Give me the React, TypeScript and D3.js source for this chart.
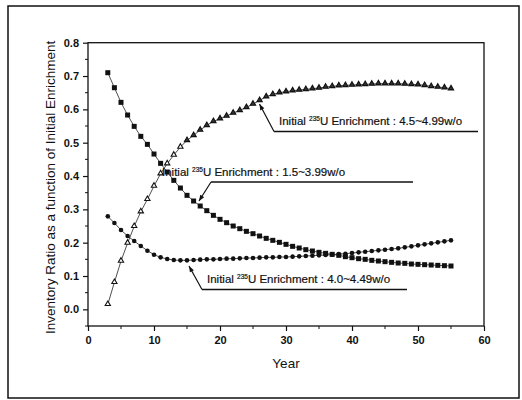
import React, { useEffect, useRef } from "react";
import * as d3 from "d3";

const years = [
  3, 4, 5, 6, 7, 8, 9, 10, 11, 12, 13, 14, 15, 16, 17, 18, 19, 20, 21, 22, 23, 24, 25, 26, 27, 28, 29,
  30, 31, 32, 33, 34, 35, 36, 37, 38, 39, 40, 41, 42, 43, 44, 45, 46, 47, 48, 49, 50, 51, 52, 53, 54, 55,
];

// 1.5~3.99 w/o (squares)
const lowEnrich = [
  0.71, 0.665, 0.621, 0.583, 0.549, 0.519, 0.495, 0.466, 0.438, 0.412, 0.387, 0.364, 0.342, 0.325,
  0.31, 0.296, 0.282, 0.27, 0.26, 0.25, 0.242, 0.234, 0.227, 0.22, 0.213, 0.207, 0.201, 0.195, 0.189,
  0.184, 0.179, 0.175, 0.171, 0.168, 0.165, 0.162, 0.158, 0.155, 0.152, 0.15, 0.147, 0.145, 0.143,
  0.141, 0.139, 0.138, 0.136, 0.135, 0.134, 0.133, 0.132, 0.131, 0.13,
];

// 4.0~4.49 w/o (circles)
const midEnrich = [
  0.279, 0.259, 0.238, 0.22, 0.205, 0.19, 0.176, 0.164, 0.156, 0.151, 0.148, 0.147, 0.147, 0.148,
  0.149, 0.15, 0.15, 0.151, 0.152, 0.152, 0.153, 0.154, 0.154, 0.155, 0.156, 0.156, 0.157, 0.157,
  0.158, 0.159, 0.16, 0.161, 0.162, 0.163, 0.164, 0.166, 0.167, 0.169, 0.171, 0.173, 0.175, 0.177,
  0.179, 0.181, 0.183, 0.186, 0.189, 0.192, 0.195, 0.198, 0.201, 0.204, 0.207,
];

// 4.5~4.99 w/o (triangles)
const highEnrich = [
  0.015, 0.081, 0.145, 0.199, 0.249, 0.293, 0.33, 0.37, 0.407, 0.437, 0.463, 0.487, 0.507, 0.522,
  0.538, 0.552, 0.564, 0.572, 0.58, 0.589, 0.597, 0.606, 0.616, 0.627, 0.638, 0.645, 0.65, 0.653,
  0.656, 0.658, 0.66, 0.662, 0.664, 0.667, 0.669, 0.671, 0.672, 0.673, 0.674, 0.675, 0.676, 0.677,
  0.677, 0.677, 0.677, 0.676, 0.675, 0.674, 0.672, 0.669, 0.667, 0.665, 0.662,
];

const xTicks = [0, 10, 20, 30, 40, 50, 60];
const yTicks = [0.0, 0.1, 0.2, 0.3, 0.4, 0.5, 0.6, 0.7, 0.8];

const W = 522;
const H = 400;
const font = "'Liberation Sans', Arial, sans-serif";

export default function App() {
  const ref = useRef<SVGSVGElement | null>(null);

  useEffect(() => {
    const svg = d3.select(ref.current);
    svg.selectAll("*").remove();

    const left = 88, right = 484, top = 42.7, bottom = 326;
    const x = d3.scaleLinear().domain([0, 60]).range([left, right]);
    const y = d3.scaleLinear().domain([-0.05, 0.8]).range([bottom, top]);

    // outer frame
    svg.append("rect")
      .attr("x", 8).attr("y", 6).attr("width", 511).attr("height", 392)
      .attr("fill", "none").attr("stroke", "#111").attr("stroke-width", 1.5);

    // plot box
    svg.append("rect")
      .attr("x", left).attr("y", top).attr("width", right - left).attr("height", bottom - top)
      .attr("fill", "none").attr("stroke", "#111").attr("stroke-width", 1.3);

    // minor ticks
    const g = svg.append("g");
    d3.range(5, 60, 10).forEach((v) => {
      g.append("line").attr("x1", x(v)).attr("x2", x(v)).attr("y1", bottom).attr("y2", bottom + 3)
        .attr("stroke", "#111").attr("stroke-width", 1);
    });
    d3.range(-0.05, 0.8, 0.1).forEach((v) => {
      g.append("line").attr("x1", left - 3).attr("x2", left).attr("y1", y(v)).attr("y2", y(v))
        .attr("stroke", "#111").attr("stroke-width", 1);
    });

    const xAxis = svg.append("g").attr("transform", `translate(0,${bottom})`)
      .call(d3.axisBottom(x).tickValues(xTicks).tickSize(5).tickPadding(5).tickFormat(d3.format("d")));
    const yAxis = svg.append("g").attr("transform", `translate(${left},0)`)
      .call(d3.axisLeft(y).tickValues(yTicks).tickSize(5).tickPadding(4).tickFormat(d3.format(".1f")));
    [xAxis, yAxis].forEach((a) => {
      a.select(".domain").remove();
      a.selectAll("line").attr("stroke", "#111").attr("stroke-width", 1.2);
      a.selectAll("text").attr("font-family", font).attr("font-size", 11)
        .attr("font-weight", "bold").attr("fill", "#111");
    });

    svg.append("text").attr("x", (left + right) / 2).attr("y", 368)
      .attr("text-anchor", "middle").attr("font-family", font).attr("font-size", 13.5)
      .attr("fill", "#111").text("Year");

    svg.append("text")
      .attr("transform", `translate(55,${(top + bottom) / 2 + 3}) rotate(-90)`)
      .attr("text-anchor", "middle").attr("font-family", font).attr("font-size", 13.5)
      .attr("fill", "#111").text("Inventory Ratio as a function of Initial Enrichment");

    const line = d3.line<number>().x((_, i) => x(years[i])).y((d) => y(d));
    const series = [lowEnrich, midEnrich, highEnrich];
    series.forEach((s) => {
      svg.append("path").attr("d", line(s)).attr("fill", "none")
        .attr("stroke", "#222").attr("stroke-width", 0.8);
    });

    svg.append("g").selectAll("rect").data(lowEnrich).join("rect")
      .attr("x", (_, i) => x(years[i]) - 2.5).attr("y", (d) => y(d) - 2.5)
      .attr("width", 5).attr("height", 5).attr("fill", "#111");

    svg.append("g").selectAll("circle").data(midEnrich).join("circle")
      .attr("cx", (_, i) => x(years[i])).attr("cy", (d) => y(d)).attr("r", 2.3).attr("fill", "#111");

    const tri = d3.symbol().type(d3.symbolTriangle).size(12);
    svg.append("g").selectAll("path").data(highEnrich).join("path")
      .attr("d", tri)
      .attr("transform", (d, i) => `translate(${x(years[i])},${y(d) - 0.3})`)
      .attr("fill", (_, i) => (i < 12 ? "#fff" : "#333")).attr("stroke", "#111").attr("stroke-width", 1.1);

    // annotations
    const notes = [
      { label: "4.5~4.99w/o", tx: 279, ty: 125, ux1: 274, ux2: 478, uy: 131.5, ax: 259.5, ay: 104 },
      { label: "1.5~3.99w/o", tx: 162, ty: 176, ux1: 211, ux2: 413, uy: 182, ax: 199, ay: 201 },
      { label: "4.0~4.49w/o", tx: 207, ty: 283, ux1: 202, ux2: 407, uy: 289.5, ax: 189, ay: 266 },
    ];
    notes.forEach((n) => {
      const t = svg.append("text").attr("x", n.tx).attr("y", n.ty)
        .attr("font-family", font).attr("font-size", 11.5).attr("fill", "#111")
        .attr("stroke", "#111").attr("stroke-width", 0.2);
      t.append("tspan").text("Initial ");
      t.append("tspan").attr("font-size", 6.5).attr("dy", -4).text("235");
      t.append("tspan").attr("dy", 4).text("U Enrichment : " + n.label);
      svg.append("line").attr("x1", n.ux1).attr("x2", n.ux2).attr("y1", n.uy).attr("y2", n.uy)
        .attr("stroke", "#111").attr("stroke-width", 1.3);
      svg.append("line").attr("x1", n.ux1).attr("y1", n.uy).attr("x2", n.ax).attr("y2", n.ay)
        .attr("stroke", "#111").attr("stroke-width", 1.2);
      const ang = Math.atan2(n.ay - n.uy, n.ax - n.ux1);
      const L = 6, wdt = 2.3;
      const bx = n.ax - L * Math.cos(ang), by = n.ay - L * Math.sin(ang);
      const px = -Math.sin(ang) * wdt, py = Math.cos(ang) * wdt;
      svg.append("path")
        .attr("d", `M${n.ax},${n.ay}L${bx + px},${by + py}L${bx - px},${by - py}Z`)
        .attr("fill", "#111");
    });
  }, []);

  return (
    <div style={{ position: "fixed", left: 0, top: 0, width: W, height: H, background: "#fff" }}>
      <svg ref={ref} width={W} height={H} />
    </div>
  );
}
